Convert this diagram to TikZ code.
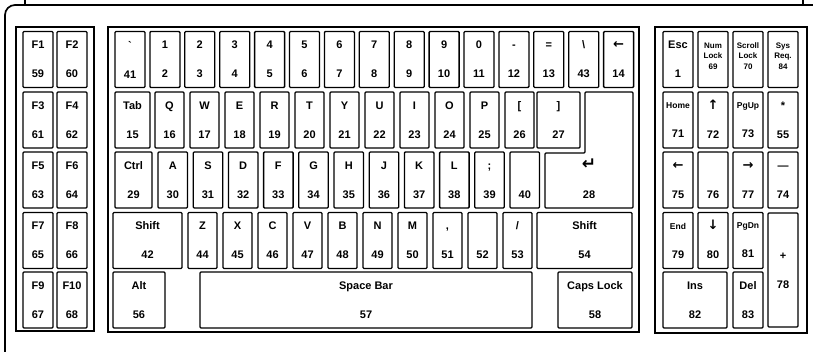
\documentclass[tikz,border=0pt]{standalone}
\usepackage{fontspec}
\setmainfont{Liberation Sans}
\newfontfamily\arrowfont{DejaVu Sans}
\newcommand\kbarrow[2][13]{\vphantom{0}\smash{\arrowfont\fontsize{#1}{29}\selectfont #2}}

\begin{document}
\begin{tikzpicture}[x=1pt,y=-1pt,
kbtxt/.style={inner sep=0pt,align=center,font=\fontsize{11}{29}\selectfont\bfseries},
kbkey/.style={kbtxt,draw,line width=1.3pt,rounded corners=1pt,minimum width=30pt,minimum height=56pt},
kbsmall/.style={inner sep=0pt,align=center,font=\fontsize{8}{10.5}\selectfont\bfseries},
kbgroup/.style={draw,line width=1.7pt}]
\useasboundingbox (0,0) rectangle (813,352);
% frame and blocks
\draw[line width=1.7pt,rounded corners=10pt] (5,352) -- (5,5) -- (813,5);
\draw[line width=1.2pt] (25,0) -- (25,5) (803,0) -- (803,5);
\draw[kbgroup] (16,27) rectangle (94,331);
\draw[kbgroup] (108,27) rectangle (639,332);
\draw[kbgroup] (655,27) rectangle (807,333);
% function keys
\foreach \yc [count=\r from 0] in {59.5,120,180,240.5,300}{
  \pgfmathtruncatemacro\fa{2*\r+1}\pgfmathtruncatemacro\fb{2*\r+2}
  \pgfmathtruncatemacro\na{59+2*\r}\pgfmathtruncatemacro\nb{60+2*\r}
  \node[kbkey] (k\na) at (38,\yc) {F\fa\\\na};
  \node[kbkey] (k\nb) at (72,\yc) {F\fb\\\nb};
}
% row 1
\foreach \kl/\kn [count=\i from 0] in {\textasciigrave/41,1/2,2/3,3/4,4/5,5/6,6/7,7/8,8/9,9/10,0/11,-/12,=/13,\textbackslash/43,{\kbarrow{←}}/14}
  \node[kbkey] (k\kn) at (130+34.9*\i,59.5) {\vphantom{0}\kl\\\kn};
% row 2
\node[kbkey,minimum width=35pt] (k15) at (132.5,120) {Tab\\15};
\foreach \kl/\kn [count=\i from 0] in {Q/16,W/17,E/18,R/19,T/20,Y/21,U/22,I/23,O/24,P/25,{[}/26}
  \node[kbkey,minimum width=29pt] (k\kn) at (169.5+35*\i,120) {\vphantom{0}\kl\\\kn};
\node[kbkey,minimum width=43pt] (k27) at (558.5,120) {]\\27};
\draw[line width=1.3pt,rounded corners=1pt] (585,92) -- (633,92) -- (633,208) -- (545,208) -- (545,153) -- (585,153) -- cycle;
\node[kbtxt] (k28) at (589,180) {\kbarrow[17]{↵}\\28};
% row 3
\node[kbkey,minimum width=37pt] (k29) at (133.5,180) {Ctrl\\29};
\foreach \kl/\kn [count=\i from 0] in {A/30,S/31,D/32,F/33,G/34,H/35,J/36,K/37,L/38,;/39,{}/40}
  \node[kbkey,minimum width=29.5pt] (k\kn) at (172.75+35.2*\i,180) {\vphantom{0}\kl\\\kn};
% row 4
\node[kbkey,minimum width=69pt] (k42) at (147.5,240.5) {Shift\\42};
\foreach \kl/\kn [count=\i from 0] in {Z/44,X/45,C/46,V/47,B/48,N/49,M/50,{,}/51,{}/52,{/}/53}
  \node[kbkey,minimum width=29pt] (k\kn) at (202.5+35*\i,240.5) {\vphantom{0}\kl\\\kn};
\node[kbkey,minimum width=95pt] (k54) at (584.5,240.5) {Shift\\54};
% row 5
\node[kbkey,minimum width=52pt] (k56) at (139,300) {Alt\\56};
\node[kbkey,minimum width=332pt] (k57) at (366,300) {Space Bar\\57};
\node[kbkey,minimum width=74pt] (k58) at (595,300) {Caps Lock\\58};
% numeric pad
\node[kbkey] (k1) at (678,59.5) {Esc\\1};
\node[kbkey] (k69) at (713,59.5) {};
\node[kbkey] (k70) at (748,59.5) {};
\node[kbkey] (k84) at (783,59.5) {};
\node[kbsmall] (t69) at ([yshift=3.5pt]k69.center) {Num\\Lock\\69};
\node[kbsmall] (t70) at ([yshift=3.5pt]k70.center) {Scroll\\Lock\\70};
\node[kbsmall] (t84) at ([yshift=3.5pt]k84.center) {Sys\\Req.\\84};
\node[kbkey] (k71) at (678,120) {{\fontsize{8.5}{29}\selectfont Home}\\71};
\node[kbkey] (k72) at (713,120) {\kbarrow{↑}\\72};
\node[kbkey] (k73) at (748,120) {{\fontsize{8.5}{29}\selectfont PgUp}\\73};
\node[kbkey] (k55) at (783,120) {\vphantom{0}*\\55};
\node[kbkey] (k75) at (678,180) {\kbarrow{←}\\75};
\node[kbkey] (k76) at (713,180) {\vphantom{0}\\76};
\node[kbkey] (k77) at (748,180) {\kbarrow{→}\\77};
\node[kbkey] (k74) at (783,180) {\vphantom{0}—\\74};
\node[kbkey] (k79) at (678,240.5) {{\fontsize{8.5}{29}\selectfont End}\\79};
\node[kbkey] (k80) at (713,240.5) {\kbarrow{↓}\\80};
\node[kbkey] (k81) at (748,240.5) {{\fontsize{8.5}{29}\selectfont PgDn}\\81};
\node[kbkey,minimum height=114pt] (k78) at (783,270) {\vphantom{0}+\\78};
\node[kbkey,minimum width=64pt] (k82) at (695,300) {Ins\\82};
\node[kbkey] (k83) at (748,300) {Del\\83};
\end{tikzpicture}
\end{document}
